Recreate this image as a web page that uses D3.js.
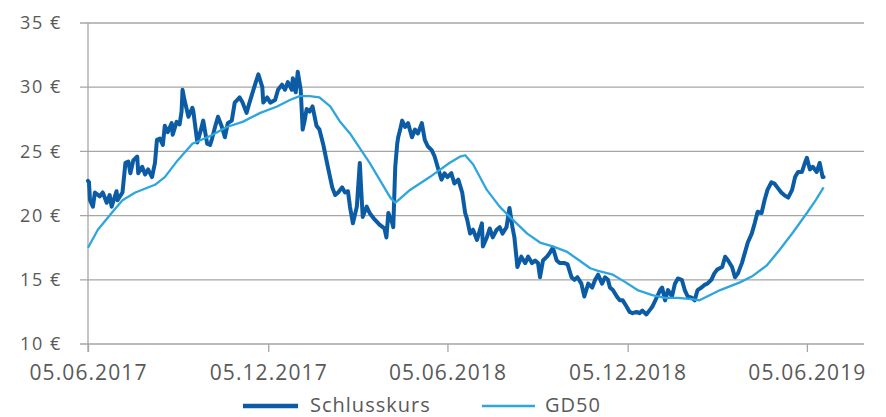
<!DOCTYPE html>
<html>
<head>
<meta charset="utf-8">
<script src="https://cdn.jsdelivr.net/npm/d3@7"></script>
<style>
  html, body { margin: 0; padding: 0; background: #fff; }
  svg { display: block; }
  text { font-family: "Open Sans", sans-serif; fill: #595959; }
</style>
</head>
<body>
<svg id="chart" width="886" height="417"></svg>
<script>
const closeDates = [
"2017-06-05","2017-06-06","2017-06-07","2017-06-10","2017-06-12","2017-06-17","2017-06-20","2017-06-24","2017-06-27","2017-06-29",
"2017-07-04","2017-07-05","2017-07-10","2017-07-13","2017-07-16","2017-07-18","2017-07-21","2017-07-25","2017-07-26","2017-07-30",
"2017-08-02","2017-08-05","2017-08-09","2017-08-12","2017-08-14","2017-08-17","2017-08-20","2017-08-22","2017-08-25","2017-08-29",
"2017-08-30","2017-09-03","2017-09-06","2017-09-08","2017-09-09","2017-09-11","2017-09-15","2017-09-19","2017-09-20","2017-09-24",
"2017-09-27","2017-09-30","2017-10-04","2017-10-07","2017-10-09","2017-10-12","2017-10-15","2017-10-19","2017-10-22","2017-10-25",
"2017-10-29","2017-11-01","2017-11-06","2017-11-09","2017-11-13","2017-11-16","2017-11-22","2017-11-25","2017-11-29","2017-11-30",
"2017-12-04","2017-12-07","2017-12-12","2017-12-15","2017-12-19","2017-12-22","2017-12-25","2017-12-29","2017-12-30","2018-01-02",
"2018-01-04","2018-01-07","2018-01-09","2018-01-11","2018-01-13","2018-01-16","2018-01-19","2018-01-23","2018-01-26","2018-01-30",
"2018-02-03","2018-02-08","2018-02-11","2018-02-14","2018-02-18","2018-02-21","2018-02-24","2018-02-26","2018-03-01","2018-03-05",
"2018-03-08","2018-03-10","2018-03-11","2018-03-15","2018-03-18","2018-03-23","2018-03-28","2018-04-02","2018-04-04","2018-04-06",
"2018-04-10","2018-04-11","2018-04-13","2018-04-15","2018-04-16","2018-04-18","2018-04-20","2018-04-23","2018-04-26","2018-04-30",
"2018-05-03","2018-05-06","2018-05-10","2018-05-13","2018-05-16","2018-05-20","2018-05-23","2018-05-26","2018-05-30","2018-06-02",
"2018-06-05","2018-06-09","2018-06-12","2018-06-16","2018-06-20","2018-06-23","2018-06-25","2018-06-28","2018-07-01","2018-07-05",
"2018-07-08","2018-07-10","2018-07-11","2018-07-15","2018-07-18","2018-07-21","2018-07-25","2018-07-28","2018-07-31","2018-08-04",
"2018-08-07","2018-08-10","2018-08-12","2018-08-14","2018-08-15","2018-08-19","2018-08-23","2018-08-26","2018-08-30","2018-09-02",
"2018-09-05","2018-09-07","2018-09-10","2018-09-14","2018-09-17","2018-09-20","2018-09-24","2018-09-27","2018-10-02","2018-10-05",
"2018-10-09","2018-10-12","2018-10-15","2018-10-19","2018-10-22","2018-10-26","2018-10-30","2018-11-02","2018-11-05","2018-11-09",
"2018-11-12","2018-11-15","2018-11-17","2018-11-20","2018-11-24","2018-11-27","2018-11-30","2018-12-04","2018-12-07","2018-12-10",
"2018-12-14","2018-12-17","2018-12-20","2018-12-24","2018-12-27","2018-12-30","2019-01-04","2019-01-07","2019-01-09","2019-01-12",
"2019-01-15","2019-01-19","2019-01-22","2019-01-25","2019-01-29","2019-02-01","2019-02-04","2019-02-08","2019-02-11","2019-02-14",
"2019-02-18","2019-02-21","2019-02-24","2019-02-28","2019-03-03","2019-03-06","2019-03-11","2019-03-14","2019-03-17","2019-03-21",
"2019-03-24","2019-03-27","2019-03-31","2019-04-03","2019-04-06","2019-04-10","2019-04-13","2019-04-16","2019-04-20","2019-04-23",
"2019-04-26","2019-04-30","2019-05-03","2019-05-06","2019-05-10","2019-05-13","2019-05-17","2019-05-21","2019-05-24","2019-05-27",
"2019-05-31","2019-06-03","2019-06-05","2019-06-08","2019-06-11","2019-06-15","2019-06-18","2019-06-21","2019-06-22"
];
const closeValues = [
22.7,22.6,21.2,20.7,21.8,21.5,21.8,21.0,21.6,20.7,
21.9,21.2,21.8,24.1,24.2,23.3,24.3,24.6,23.3,23.8,
23.2,23.6,23.0,24.1,25.9,26.0,25.5,27.0,26.5,27.2,
26.3,27.3,27.1,28.1,29.8,29.0,27.7,28.4,28.1,25.7,
26.5,27.4,25.6,25.5,26.0,26.9,27.7,26.9,26.1,27.2,
27.4,28.8,29.2,28.8,28.0,28.8,30.3,31.0,30.0,28.8,
29.2,28.8,29.0,29.8,30.2,29.8,30.4,29.8,30.7,29.6,
31.2,29.8,26.7,27.4,28.3,28.1,28.5,27.0,26.7,25.5,
24.0,22.2,21.6,21.8,22.2,21.8,21.9,20.7,19.4,20.7,
24.1,21.2,19.9,20.7,20.2,19.7,19.3,19.0,18.3,20.2,
19.4,19.1,23.8,25.6,26.1,26.7,27.4,26.9,27.2,26.1,
26.7,26.4,27.2,25.9,25.4,25.1,24.6,23.8,22.8,23.3,
23.0,23.3,22.5,22.8,21.8,20.2,19.7,18.6,18.9,18.1,
18.9,19.4,17.6,18.3,19.0,18.3,18.9,19.1,18.6,19.1,
20.6,19.1,18.3,16.8,16.0,16.8,16.3,16.8,16.3,16.5,
16.3,15.2,16.5,16.8,17.1,17.5,16.5,16.3,16.3,16.2,
15.2,15.0,15.2,14.7,13.7,14.7,14.4,15.0,15.4,14.7,
15.2,15.0,14.4,14.2,13.7,13.4,13.4,12.9,12.5,12.4,
12.5,12.4,12.6,12.3,12.6,12.9,13.7,14.2,14.4,13.4,
14.2,13.7,14.7,15.1,15.0,14.2,13.7,13.6,13.4,14.2,
14.4,14.6,14.7,15.0,15.5,15.8,16.0,16.8,16.5,16.0,
15.2,15.5,16.3,17.1,17.9,18.6,19.4,20.3,20.2,21.2,
22.0,22.6,22.5,22.2,21.8,21.6,21.4,22.0,23.0,23.4,
23.4,24.1,24.5,23.6,23.8,23.4,24.1,23.0,23.0
];
const gd50Dates = [
"2017-06-05","2017-06-15","2017-06-29","2017-07-10","2017-07-23","2017-08-12","2017-08-22","2017-09-04","2017-09-19","2017-10-07",
"2017-10-24","2017-11-09","2017-11-27","2017-12-14","2017-12-27","2018-01-06","2018-01-16","2018-01-26","2018-02-06","2018-02-16",
"2018-02-26","2018-03-18","2018-04-08","2018-04-13","2018-04-28","2018-05-18","2018-06-07","2018-06-18","2018-06-23","2018-07-01",
"2018-07-15","2018-07-28","2018-08-10","2018-08-25","2018-09-07","2018-09-20","2018-10-04","2018-10-17","2018-10-28","2018-11-05",
"2018-11-20","2018-12-03","2018-12-15","2018-12-30","2019-01-12","2019-01-25","2019-02-08","2019-02-16","2019-03-09","2019-03-29",
"2019-04-11","2019-04-25","2019-05-08","2019-05-22","2019-06-05","2019-06-14","2019-06-22"
];
const gd50Values = [
17.5,18.9,20.2,21.2,21.8,22.4,23.0,24.3,25.6,26.2,
26.9,27.3,28.0,28.5,29.0,29.3,29.3,29.2,28.5,27.3,
26.4,24.1,21.4,21.0,22.0,23.0,24.1,24.6,24.7,24.0,
22.0,20.7,19.7,18.6,17.9,17.6,17.2,16.5,15.9,15.7,
15.4,14.8,14.2,13.8,13.6,13.6,13.5,13.4,14.2,14.8,
15.3,16.1,17.3,18.7,20.2,21.2,22.2
];
const yTicks = [10, 15, 20, 25, 30, 35];
const xTickLabels = ["2017-06-05","2017-12-05","2018-06-05","2018-12-05","2019-06-05"];
const seriesNames = ["Schlusskurs", "GD50"];
const seriesColors = ["#0b5ca5", "#2ea6dd"];

const parse = d3.timeParse("%Y-%m-%d");
const fmt = d3.timeFormat("%d.%m.%Y");
const closeData = closeDates.map((d, i) => ({ date: parse(d), value: closeValues[i] }));
const gd50Data = gd50Dates.map((d, i) => ({ date: parse(d), value: gd50Values[i] }));

const svg = d3.select("#chart");
const x = d3.scaleTime().domain([parse("2017-06-05"), parse("2019-08-02")]).range([88, 864]);
const y = d3.scaleLinear().domain([10, 35]).range([344, 23]);

// horizontal gridlines
svg.append("g").selectAll("line").data(yTicks).join("line")
  .attr("x1", 80).attr("x2", 864)
  .attr("y1", d => y(d)).attr("y2", d => y(d))
  .attr("stroke", "#a6a6a6").attr("stroke-width", 1.3);

// vertical axis line
svg.append("line").attr("x1", 88).attr("x2", 88).attr("y1", y(35)).attr("y2", 352)
  .attr("stroke", "#a6a6a6").attr("stroke-width", 1.3);

// y axis labels
const yAxis = d3.axisLeft(y).tickValues(yTicks).tickFormat(d => d + " €").tickSize(0).tickPadding(26);
const gy = svg.append("g").attr("transform", "translate(88,0)").call(yAxis);
gy.select(".domain").remove();
gy.selectAll("text").style("font-size", "18px").style("letter-spacing", "1.6px").attr("fill", "#595959");

// x axis
const xAxis = d3.axisBottom(x).tickValues(xTickLabels.map(parse)).tickFormat(fmt).tickSize(8).tickPadding(13);
const gx = svg.append("g").attr("transform", "translate(0,344)").call(xAxis);
gx.select(".domain").remove();
gx.selectAll("line").attr("stroke", "#a6a6a6").attr("stroke-width", 1.3);
gx.selectAll("text").style("font-size", "21px").style("letter-spacing", "1.1px").attr("fill", "#595959");

const line = d3.line().x(d => x(d.date)).y(d => y(d.value));

svg.append("path").datum(closeData).attr("d", line)
  .attr("fill", "none").attr("stroke", seriesColors[0]).attr("stroke-width", 4)
  .attr("stroke-linejoin", "round").attr("stroke-linecap", "round");
svg.append("path").datum(gd50Data).attr("d", line)
  .attr("fill", "none").attr("stroke", seriesColors[1]).attr("stroke-width", 2.3)
  .attr("stroke-linejoin", "round");

// legend
const legend = [
  { name: seriesNames[0], color: seriesColors[0], w: 4.5, x1: 243, x2: 298, tx: 310 },
  { name: seriesNames[1], color: seriesColors[1], w: 2.5, x1: 482, x2: 535, tx: 545 }
];
const lg = svg.append("g");
lg.selectAll("line").data(legend).join("line")
  .attr("x1", d => d.x1).attr("x2", d => d.x2).attr("y1", 406).attr("y2", 406)
  .attr("stroke", d => d.color).attr("stroke-width", d => d.w);
lg.selectAll("text").data(legend).join("text")
  .attr("x", d => d.tx).attr("y", 412)
  .style("font-size", "20px").style("letter-spacing", "1px")
  .text(d => d.name);
</script>
</body>
</html>
